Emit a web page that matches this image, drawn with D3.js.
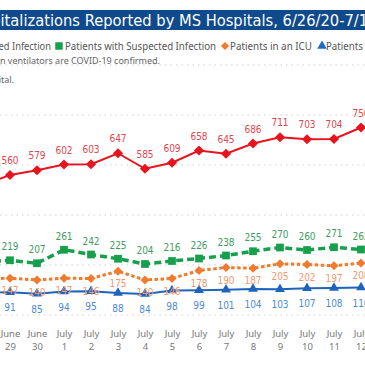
<!DOCTYPE html>
<html>
<head>
<meta charset="utf-8">
<script src="https://cdn.jsdelivr.net/npm/d3@7"></script>
<style>
  body { margin: 0; background: #fff; }
  svg { display: block; }
</style>
</head>
<body>
<script>
// data (June 28 is off the left edge, estimated)
const dates = ["June 28", "June 29", "June 30", "July 1", "July 2", "July 3", "July 4", "July 5",
  "July 6", "July 7", "July 8", "July 9", "July 10", "July 11", "July 12"];
const confirmed = [520, 560, 579, 602, 603, 647, 585, 609, 658, 645, 686, 711, 703, 704, 750];
const suspected = [212, 219, 207, 261, 242, 225, 204, 216, 226, 238, 255, 270, 260, 271, 262];
const icu = [145, 147, 140, 147, 146, 175, 140, 146, 178, 190, 187, 205, 202, 197, 208];
const vent = [90, 91, 85, 94, 95, 88, 84, 98, 99, 101, 104, 103, 107, 108, 110];
const yTicks = [0, 200, 400, 600, 800, 1000];

const W = 365, H = 365;
const svg = d3.select("body").append("svg")
  .attr("width", W).attr("height", H);

// full date domain of the original chart, only part is inside the crop
const allDates = ["June 26", "June 27"].concat(dates, ["July 13"]);
const x = d3.scalePoint().domain(allDates).range([-71, 388]);
const y = d3.scaleLinear().domain([0, 1000]).range([315, 65]);

// title bar
svg.append("rect").attr("x", 0).attr("y", 10).attr("width", W).attr("height", 20)
  .attr("fill", "#0f4a8c");
const title = svg.append("text")
  .attr("y", 26)
  .attr("fill", "#fff")
  .style("font-family", "'DejaVu Sans Condensed', 'DejaVu Sans'")
  .style("font-size", "17px")
  .text("COVID-19 Hospitalizations Reported by MS Hospitals, 6/26/20-7/13/20");
// size and shift so "italizations ... 7/1" spans the crop
const full = title.text();
const cut = full.indexOf("italizations");
const endCut = full.indexOf("7/13") + 3;
let vis = title.node().getSubStringLength(cut, endCut - cut);
title.style("font-size", (17 * 368 / vis) + "px");
title.attr("x", -title.node().getSubStringLength(0, cut) + 0.5);

// legend
const legendFont = "'Noto Sans', 'Open Sans', sans-serif";
const legend = [
  { label: "Patients with Suspected Infection", color: "#16a04c", shape: "square", x: 55, tx: 65, w: 151 },
  { label: "Patients in an ICU", color: "#f07a2e", shape: "diamond", x: 221, tx: 230, w: 82 },
  { label: "Patients on Ventilators", color: "#1e6cc4", shape: "triangle", x: 318, tx: 326, w: 103 }
];
svg.append("text").attr("x", 51).attr("y", 50).attr("text-anchor", "end")
  .attr("fill", "#555").style("font-family", legendFont).style("font-size", "10px")
  .attr("textLength", 147).attr("lengthAdjust", "spacingAndGlyphs")
  .text("Patients with Confirmed Infection");
legend.forEach(d => {
  let sym;
  if (d.shape == "square") sym = d3.symbol(d3.symbolSquare, 56);
  else if (d.shape == "diamond") sym = d3.symbol(d3.symbolSquare, 34);
  else sym = d3.symbol(d3.symbolTriangle, 40);
  svg.append("path").attr("d", sym())
    .attr("transform", `translate(${d.x + 4},46)` + (d.shape == "diamond" ? " rotate(45)" : ""))
    .attr("fill", d.color);
  svg.append("text").attr("x", d.tx).attr("y", 50)
    .attr("fill", "#555").style("font-family", legendFont).style("font-size", "10px")
    .attr("textLength", d.w).attr("lengthAdjust", "spacingAndGlyphs")
    .text(d.label);
});

// notes (cut off on the left)
svg.append("text").attr("x", 160).attr("y", 64).attr("text-anchor", "end")
  .attr("fill", "#666").style("font-family", legendFont).style("font-size", "9px")
  .text("Note: All patients in the ICU and on ventilators are COVID-19 confirmed.");
svg.append("text").attr("x", 14).attr("y", 83).attr("text-anchor", "end")
  .attr("fill", "#666").style("font-family", legendFont).style("font-size", "9px")
  .text("Data are reported by each hospital.");

// gridlines
svg.append("g").selectAll("line").data(yTicks).join("line")
  .attr("x1", 0).attr("x2", W)
  .attr("y1", d => y(d)).attr("y2", d => y(d))
  .attr("stroke", "#d0d0d0").attr("stroke-width", 1.2)
  .attr("stroke-dasharray", "1.5,4");

// x axis labels (two lines)
const xAxis = svg.append("g").attr("transform", "translate(0,315)")
  .call(d3.axisBottom(x).tickSize(0).tickPadding(0));
xAxis.select(".domain").remove();
xAxis.selectAll("text").each(function (d) {
  const t = d3.select(this);
  const parts = d.split(" ");
  t.text(null).attr("y", 0).attr("dy", null)
    .attr("fill", "#777")
    .style("font-family", legendFont).style("font-size", "9.5px");
  t.append("tspan").attr("x", 0).attr("y", 22).text(parts[0]);
  t.append("tspan").attr("x", 0).attr("y", 35).text(parts[1]);
});

const labelFont = "'DejaVu Sans Condensed', 'DejaVu Sans'";
const series = [
  { values: vent, color: "#1f64bb", label: "#4d8ad3", width: 1.8, dash: null,
    sym: d3.symbol(d3.symbolTriangle, 42), rot: 0, dy: 19 },
  { values: icu, color: "#f07a2e", label: "#f29a72", width: 3, dash: "3.5,2.5",
    sym: d3.symbol(d3.symbolSquare, 40), rot: 45, dy: 16 },
  { values: suspected, color: "#16a04c", label: "#3f9d62", width: 3.5, dash: "7,4",
    sym: d3.symbol(d3.symbolSquare, 60), rot: 0, dy: -10 },
  { values: confirmed, color: "#e8141d", label: "#e0474f", width: 2, dash: null,
    sym: d3.symbol(d3.symbolSquare, 52), rot: 45, dy: -11 }
];

series.forEach(s => {
  const pts = dates.map((d, i) => ({ date: d, v: s.values[i] }));
  svg.append("path").datum(pts)
    .attr("d", d3.line().x(d => x(d.date)).y(d => y(d.v)))
    .attr("fill", "none")
    .attr("stroke", s.color)
    .attr("stroke-width", s.width)
    .attr("stroke-dasharray", s.dash);
  svg.append("g").selectAll("path").data(pts).join("path")
    .attr("d", s.sym())
    .attr("transform", d => `translate(${x(d.date)},${y(d.v)}) rotate(${s.rot})`)
    .attr("fill", s.color);
  svg.append("g").selectAll("text").data(pts).join("text")
    .attr("x", d => x(d.date))
    .attr("y", d => y(d.v) + s.dy)
    .attr("text-anchor", "middle")
    .attr("fill", s.label)
    .style("font-family", labelFont)
    .style("font-size", "10px")
    .text(d => d.v);
});
</script>
</body>
</html>
